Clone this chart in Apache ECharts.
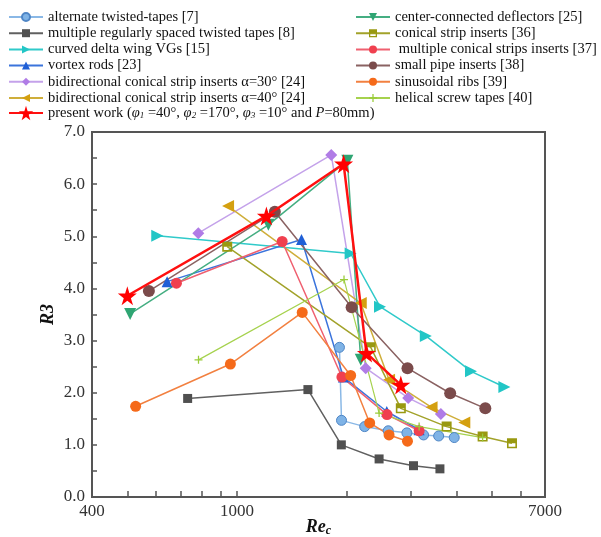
<!DOCTYPE html>
<html>
<head>
<meta charset="utf-8">
<script src="https://cdn.jsdelivr.net/npm/echarts@6/dist/echarts.min.js"></script>
<style>html,body{margin:0;padding:0;background:#fff}#c{width:601px;height:537px}</style>
</head>
<body>
<div id="c"></div>
<script>
// ---- data: [Re_c, R3] pairs ----
const alternateTwisted = [[1910,2.87],[1935,1.47],[2240,1.35],[2600,1.27],[2925,1.23],[3250,1.19],[3575,1.17],[3945,1.14]];
const multipleSpaced = [[732,1.89],[1565,2.06],[1933,1.00],[2454,0.73],[3050,0.60],[3604,0.54]];
const curvedDelta = [[604,5.01],[2050,4.67],[2468,3.65],[3297,3.09],[4385,2.41],[5415,2.11]];
const vortexRods = [[643,4.13],[1503,4.94],[1958,2.30],[2576,1.64],[3160,1.29]];
const bidir30 = [[783,5.06],[1814,6.56],[2255,2.47],[2949,1.90],[3625,1.59]];
const bidir40 = [[945,5.58],[2185,3.72],[2613,2.25],[3419,1.72],[4205,1.43]];
const presentWork = [[500,3.86],[1204,5.39],[1961,6.39],[2265,2.76],[2815,2.15]];
const centerDeflectors = [[509,3.51],[1219,5.22],[2008,6.45],[2185,2.63]];
const conicalStrip = [[940,4.80],[2328,2.87],[2815,1.70],[3760,1.35],[4720,1.16],[5682,1.03]];
const multiConical = [[682,4.10],[1330,4.90],[1940,2.30],[2580,1.58],[3160,1.27]];
const smallPipe = [[573,3.95],[1270,5.47],[2063,3.64],[2936,2.47],[3845,1.99],[4801,1.70]];
const sinusoidalRibs = [[527,1.74],[959,2.55],[1510,3.54],[2050,2.33],[2312,1.42],[2613,1.19],[2936,1.07]];
const helicalScrew = [[784,2.63],[1966,4.17],[2454,1.61],[3160,1.35],[4720,1.14]];

const xTickValues = [400,500,600,700,800,900,1000,2000,3000,4000,5000,6000,7000];
const xLabelValues = [400,1000,7000];

const leftNames = ['alternate twisted-tapes [7]','multiple regularly spaced twisted tapes [8]','curved delta wing VGs [15]','vortex rods [23]','bidirectional conical strip inserts \u03b1=30\u00b0 [24]','bidirectional conical strip inserts \u03b1=40\u00b0 [24]'];
const presentName = 'present work';
const rightNames = ['center-connected deflectors [25]','conical strip inserts [36]',' multiple conical strips inserts [37]','small pipe inserts [38]','sinusoidal ribs [39]','helical screw tapes [40]'];

const SERIF = 'Liberation Serif';
const STAR = 'path://M50,0 L61,35 L98,35 L68,57 L79,91 L50,70 L21,91 L32,57 L2,35 L39,35 Z';
const PLUS = 'path://M4.2,0 L5.8,0 L5.8,4.2 L10,4.2 L10,5.8 L5.8,5.8 L5.8,10 L4.2,10 L4.2,5.8 L0,5.8 L0,4.2 L4.2,4.2 Z';
const HALFSQ = 'path://M0,0 L10,0 L10,10 L0,10 Z M1.6,5 L1.6,8.4 L8.4,8.4 L8.4,5 Z';

function mk(name, data, color, lineColor, symbol, size, extra) {
  return Object.assign({
    name: name, type: 'line', data: data,
    symbol: symbol, symbolSize: size,
    lineStyle: {color: lineColor, width: 1.5},
    itemStyle: {color: color},
    z: 2
  }, extra || {});
}

const series = [
  mk(leftNames[0], alternateTwisted, '#79aee3', '#8ab8e6', 'circle', 10, {itemStyle:{color:'#7fb3e6', borderColor:'#4f86c6', borderWidth:1}}),
  mk(leftNames[1], multipleSpaced, '#505050', '#606060', 'rect', 9),
  mk(leftNames[2], curvedDelta, '#22c6c6', '#30caca', 'triangle', 12, {symbolRotate: -90}),
  mk(leftNames[3], vortexRods, '#1f5fd6', '#3b74dc', 'triangle', 11),
  mk(leftNames[4], bidir30, '#b07ce6', '#c4a2ea', 'diamond', 12),
  mk(leftNames[5], bidir40, '#d4a010', '#cfae3a', 'triangle', 12, {symbolRotate: 90}),
  mk(rightNames[0], centerDeflectors, '#2fa573', '#45ae82', 'triangle', 12, {symbolRotate: 180}),
  mk(rightNames[1], conicalStrip, '#999910', '#a2a22a', HALFSQ, 10),
  mk(rightNames[2], multiConical, '#f0404f', '#ef6070', 'circle', 11),
  mk(rightNames[3], smallPipe, '#7b4b4b', '#8a6262', 'circle', 12),
  mk(rightNames[4], sinusoidalRibs, '#f56a1a', '#f28040', 'circle', 11),
  mk(rightNames[5], helicalScrew, '#9acc3a', '#a6d24e', PLUS, 8, {lineStyle:{color:'#a6d24e', width:1.2}}),
  mk(presentName, presentWork, '#ff0000', '#ff1010', STAR, 19, {lineStyle:{color:'#ff1010', width:2.5}, z: 5})
];

const legendText = {
  fontFamily: SERIF, fontSize: 14.5, color: '#111', lineHeight: 16,
  rich: {
    n: {fontFamily: SERIF, fontSize: 14.5, color: '#111'},
    i: {fontFamily: SERIF, fontSize: 14.5, fontStyle: 'italic', color: '#111'},
    s: {fontFamily: SERIF, fontSize: 9, fontStyle: 'italic', color: '#111', padding: [6, 0, 0, 0]}
  }
};
function legendFmt(name) {
  if (name === presentName) {
    return '{n|present work (}{i|\u03c6}{s|1}{n| =40\u00b0, }{i|\u03c6}{s|2}{n| =170\u00b0, }{i|\u03c6}{s|3}{n| =10\u00b0 and }{i|P}{n|=80mm)}';
  }
  return name;
}

const chart = echarts.init(document.getElementById('c'), null, {renderer: 'canvas'});
chart.setOption({
  backgroundColor: '#fff',
  animation: false,
  legend: [
    {data: leftNames, orient: 'vertical', left: 8, top: 9, padding: 0, itemGap: 0.2, itemWidth: 34, itemHeight: 10, textStyle: legendText, selectedMode: false},
    {data: [presentName], orient: 'vertical', left: 8, top: 105, padding: 0, itemGap: 0, itemWidth: 34, itemHeight: 18, textStyle: legendText, formatter: legendFmt, selectedMode: false},
    {data: rightNames, orient: 'vertical', left: 355, top: 9, padding: 0, itemGap: 0.2, itemWidth: 34, itemHeight: 10, textStyle: legendText, selectedMode: false}
  ],
  grid: {left: 92, right: 56, top: 132, bottom: 40, containLabel: false, outerBoundsMode: 'none', show: true, borderColor: '#555', borderWidth: 2, backgroundColor: 'transparent'},
  xAxis: {
    type: 'log', logBase: 10, min: 400, max: 7000,
    name: '{a|Re}{b|c}', nameLocation: 'middle', nameGap: 20, nameMoveOverlap: false,
    nameTextStyle: {rich: {
      a: {fontFamily: SERIF, fontSize: 18, fontWeight: 'bold', fontStyle: 'italic', color: '#111'},
      b: {fontFamily: SERIF, fontSize: 12, fontWeight: 'bold', fontStyle: 'italic', color: '#111', padding: [8, 0, 0, 0]}
    }},
    axisLine: {onZero: false, lineStyle: {color: '#555', width: 2}},
    axisTick: {inside: true, length: 6, customValues: xTickValues, lineStyle: {color: '#555', width: 1.5}},
    axisLabel: {customValues: xLabelValues, formatter: v => String(Math.round(v)), fontFamily: SERIF, fontSize: 17, color: '#333', margin: 6},
    splitLine: {show: false}, minorTick: {show: false}
  },
  yAxis: {
    type: 'value', min: 0, max: 7, interval: 1,
    name: 'R3', nameLocation: 'middle', nameGap: 35, nameMoveOverlap: false,
    nameTextStyle: {fontFamily: SERIF, fontSize: 18, fontWeight: 'bold', fontStyle: 'italic', color: '#111'},
    axisLine: {onZero: false, lineStyle: {color: '#555', width: 2}},
    axisTick: {inside: true, length: 5, lineStyle: {color: '#555', width: 1.5}},
    minorTick: {show: true, splitNumber: 2, length: 5, lineStyle: {color: '#555', width: 1.5}},
    axisLabel: {formatter: v => v.toFixed(1), fontFamily: SERIF, fontSize: 17, color: '#333', margin: 7},
    splitLine: {show: false}
  },
  series: series
});
</script>
</body>
</html>
